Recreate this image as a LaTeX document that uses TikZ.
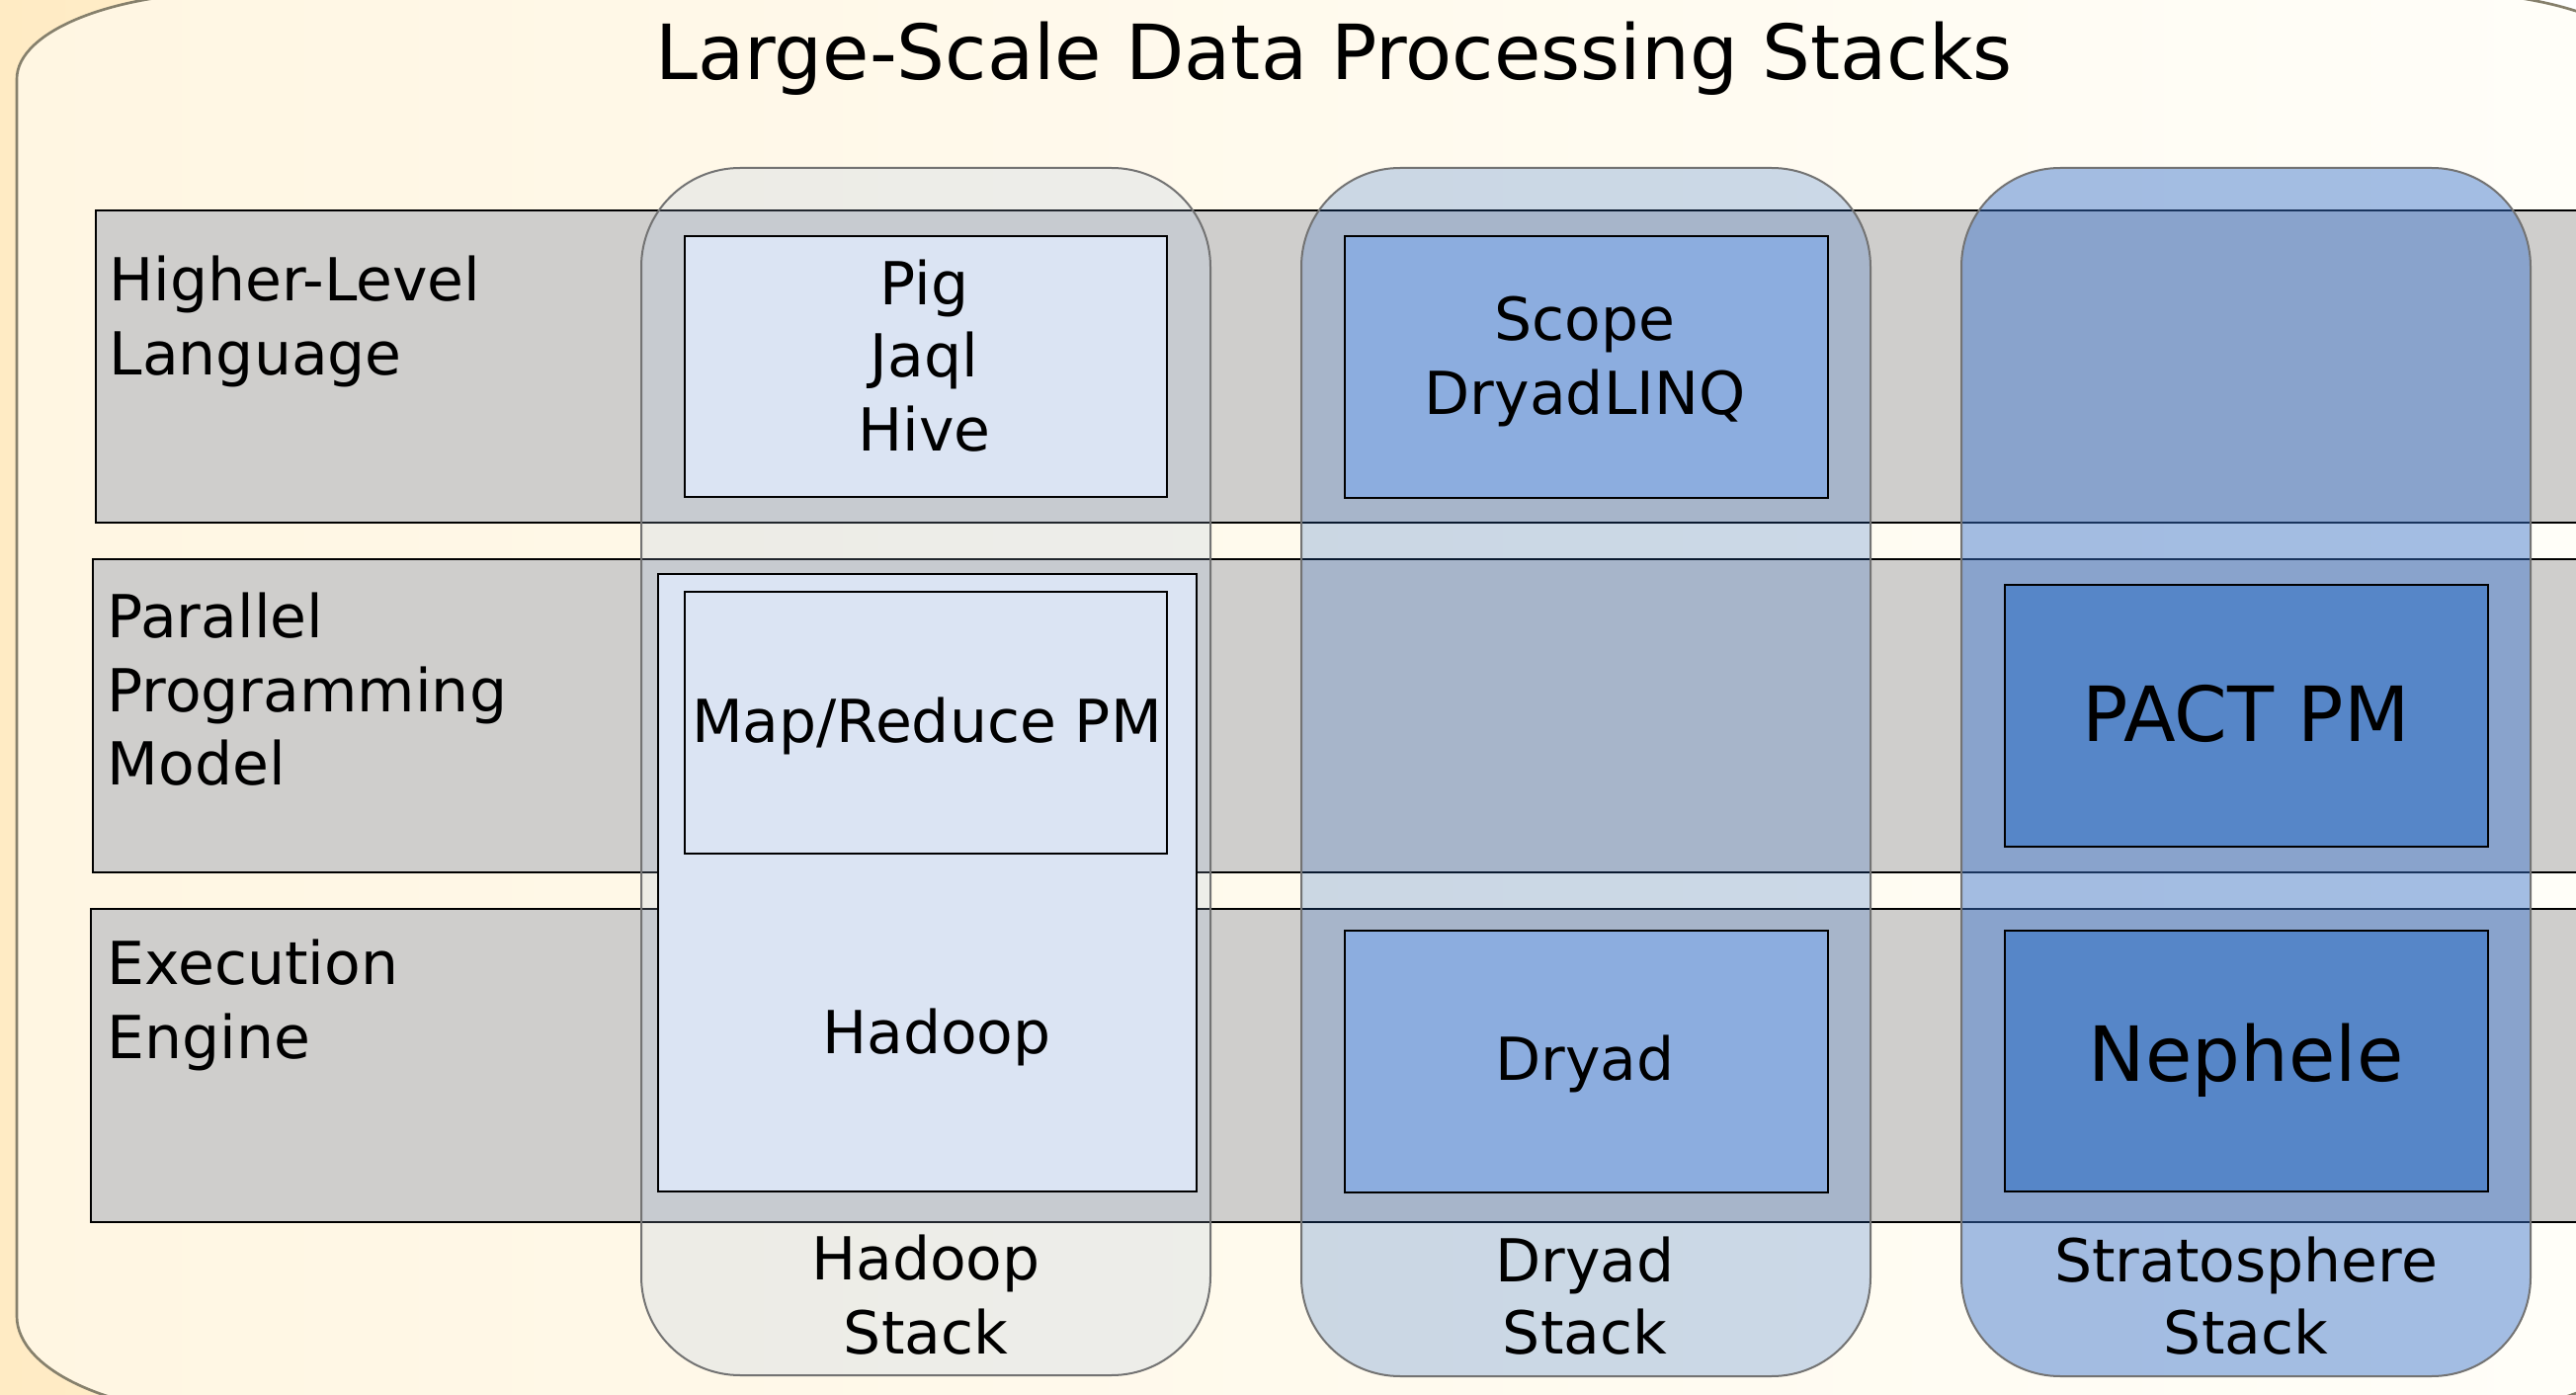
\documentclass[tikz,border=0pt]{standalone}
\usepackage{fontspec}
\setmainfont{DejaVu Sans}
\definecolor{pageorange}{HTML}{FFEBC4}
\definecolor{bgleft}{HTML}{FFF6E2}
\definecolor{bgright}{HTML}{FFFEF9}
\definecolor{outerline}{HTML}{86806C}
\definecolor{rowgray}{HTML}{CFCECC}
\definecolor{hadoopcol}{RGB}{168,192,225}
\definecolor{dryadcol}{RGB}{40,105,198}
\definecolor{stratocol}{RGB}{55,114,204}
\definecolor{palebox}{HTML}{DBE4F3}
\definecolor{midbox}{HTML}{8CADDF}
\definecolor{darkbox}{HTML}{5686C8}
\tikzset{
  rowband/.style={fill=rowgray, draw=black, line width=0.6pt},
  stackcol/.style={draw=black!55, line width=0.6pt, rounded corners=30pt},
  inbox/.style={draw=black, line width=0.6pt},
  lbl/.style={inner sep=0pt, anchor=base, font=\fontsize{18}{22.5}\selectfont},
  lblw/.style={lbl, anchor=base west},
  biglbl/.style={inner sep=0pt, anchor=base, font=\fontsize{23.1}{28}\selectfont}
}
\begin{document}
\begin{tikzpicture}[x=0.3pt, y=-0.3pt]
\useasboundingbox (0,0) rectangle (2607,1412);
\clip (0,0) rectangle (2607,1412);
% page background
\fill[left color=pageorange, right color=white] (0,0) rectangle (2607,1412);
% outer rounded frame
\path[left color=bgleft, right color=bgright, draw=outerline, line width=0.8pt]
  (17,80) .. controls (17,31.4) and (115.6,-8) .. (237,-8) -- (2470,-8)
  .. controls (2591.4,-8) and (2690,31.4) .. (2690,80) -- (2690,1332)
  .. controls (2690,1387.2) and (2591.4,1432) .. (2470,1432) -- (237,1432)
  .. controls (115.6,1432) and (17,1387.2) .. (17,1332) -- cycle;
% title
\node[biglbl] (title) at (1350,81) {Large-Scale Data Processing Stacks};
% layer bands
\draw[rowband] (97,213) rectangle (2700,529.5);
\draw[rowband] (94,566) rectangle (2700,882.5);
\draw[rowband] (92,920) rectangle (2700,1236.5);
% stack columns
\draw[stackcol, fill=hadoopcol, fill opacity=0.2] (649,170) rectangle (1225,1392);
\draw[stackcol, fill=dryadcol, fill opacity=0.24] (1317,170) rectangle (1893,1393);
\draw[stackcol, fill=stratocol, fill opacity=0.46] (1985,170) rectangle (2561,1393);
% component boxes
\draw[inbox, fill=palebox] (693,239) rectangle (1181,503.5);
\draw[inbox, fill=palebox] (666,581) rectangle (1211,1206);
\draw[inbox, fill=palebox] (693,599.5) rectangle (1181,864);
\draw[inbox, fill=midbox] (1361,239) rectangle (1849.5,504);
\draw[inbox, fill=midbox] (1361,942) rectangle (1849.5,1206.5);
\draw[inbox, fill=darkbox] (2029,592) rectangle (2517.5,857);
\draw[inbox, fill=darkbox] (2029,941.5) rectangle (2517.5,1206);
% layer labels
\node[lblw] (hl1) at (110,305) {Higher-Level};
\node[lblw] (hl2) at (110,380) {Language};
\node[lblw] (pp1) at (108,645.5) {Parallel};
\node[lblw] (pp2) at (108,720.5) {Programming};
\node[lblw] (pp3) at (108,794) {Model};
\node[lblw] (ee1) at (108,996.7) {Execution};
\node[lblw] (ee2) at (108,1071.7) {Engine};
% Hadoop stack
\node[lbl] (pig) at (935.5,308.5) {Pig};
\node[lbl] (jaql) at (935.5,382) {Jaql};
\node[lbl] (hive) at (935.5,457) {Hive};
\node[lbl] (mrpm) at (938,752) {Map/Reduce PM};
\node[lbl] (hadoop) at (948,1066.7) {Hadoop};
\node[lbl] (hs1) at (937,1295) {Hadoop};
\node[lbl] (hs2) at (937,1370) {Stack};
% Dryad stack
\node[lbl] (scope) at (1604,345) {Scope};
\node[lbl] (dlinq) at (1604,420) {DryadLINQ};
\node[lbl] (dryad) at (1604,1093.7) {Dryad};
\node[lbl] (ds1) at (1604,1297) {Dryad};
\node[lbl] (ds2) at (1604,1370.5) {Stack};
% Stratosphere stack
\node[biglbl] (pact) at (2273,751) {PACT PM};
\node[biglbl] (nephele) at (2273,1094.6) {Nephele};
\node[lbl] (ss1) at (2273,1297) {Stratosphere};
\node[lbl] (ss2) at (2273,1370.5) {Stack};
\end{tikzpicture}
\end{document}
